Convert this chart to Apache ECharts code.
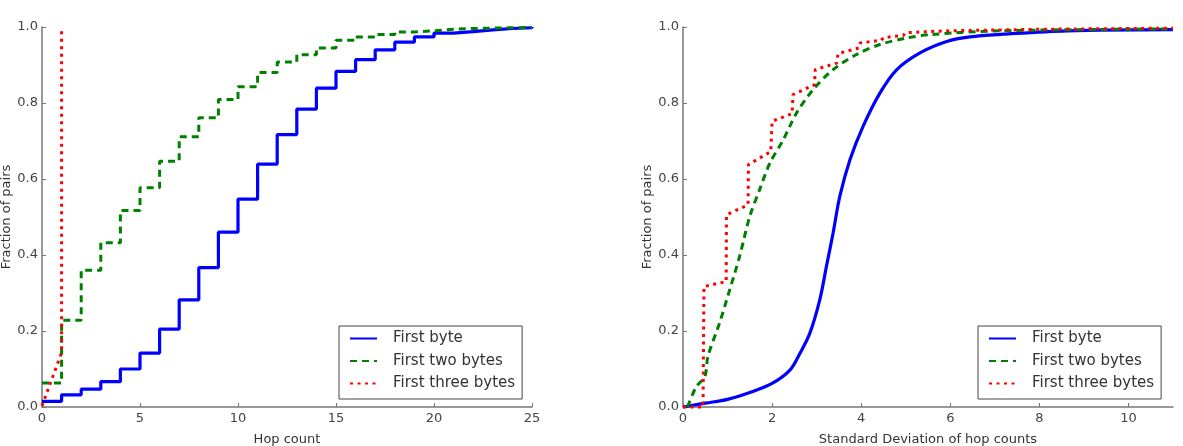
<!DOCTYPE html>
<html>
<head>
<meta charset="utf-8">
<script src="https://cdn.jsdelivr.net/npm/echarts@6/dist/echarts.min.js"></script>
<style>
html,body{margin:0;padding:0;background:#fff;}
#chart{width:1183px;height:446px;}
</style>
</head>
<body>
<div id="chart"></div>
<script>
// ---- Data ----
const seriesNames = ['First byte', 'First two bytes', 'First three bytes'];

// Left panel: CDF over hop count (step functions, value held on [x, x+1))
const hopX = [0,1,2,3,4,5,6,7,8,9,10,11,12,13,14,15,16,17,18,19,20,21,22,23,24,25];
const hopFirstByte = [0.015,0.032,0.047,0.067,0.100,0.142,0.205,0.282,0.367,0.460,0.547,0.639,0.717,0.784,0.839,0.883,0.914,0.940,0.960,0.974,0.984,0.988,0.9925,0.996,0.998,1.0];
const hopFirstTwo = [0.063,0.228,0.360,0.432,0.517,0.577,0.647,0.711,0.761,0.809,0.843,0.880,0.908,0.927,0.945,0.965,0.974,0.980,0.987,0.990,0.994,0.996,0.997,0.998,0.999,1.0];
const hopThreeX = [0, 1, 1];
const hopFirstThree = [0.003, 0.143, 0.99];

// Right panel: CDF over standard deviation of hop counts
const sdByteX = [0,0.5,1.0,1.5,2.0,2.4,2.62,2.85,3.07,3.22,3.37,3.52,3.75,4.04,4.42,4.8,5.32,5.92,6.44,7.19,8.62,11];
const sdByteY = [0,0.010,0.020,0.038,0.062,0.097,0.14,0.195,0.282,0.370,0.458,0.554,0.651,0.738,0.826,0.888,0.932,0.962,0.974,0.981,0.990,0.993];
const sdTwoX = [0.1,0.3,0.49,0.56,0.82,1.05,1.27,1.5,1.72,1.95,2.25,2.55,2.92,3.37,3.9,4.42,5.02,5.54,7.1,11];
const sdTwoY = [0,0.054,0.08,0.133,0.221,0.309,0.396,0.502,0.572,0.642,0.703,0.774,0.835,0.888,0.928,0.954,0.971,0.98,0.99,0.995];
const sdThreeX = [0,0.45,0.47,0.97,0.975,1.46,1.47,1.97,2.0,2.45,2.47,2.95,2.97,3.45,3.48,3.95,3.97,4.45,4.5,4.95,5.0,5.5,6,7,8,9,10,11];
const sdThreeY = [0,0,0.317,0.33,0.506,0.532,0.638,0.672,0.752,0.772,0.822,0.848,0.888,0.905,0.93,0.945,0.958,0.965,0.972,0.978,0.985,0.988,0.99,0.992,0.994,0.995,0.996,0.997];

const yTicks = [0, 0.2, 0.4, 0.6, 0.8, 1.0];
const hopTicks = [0, 5, 10, 15, 20, 25];
const sdTicks = [0, 2, 4, 6, 8, 10];

// ---- Helpers ----
const zip = (xs, ys) => xs.map((x, i) => [x, ys[i]]);
const FONT = 'DejaVu Sans';
const colors = ['#0000ff', '#008000', '#ff0000'];
const lineStyles = [
  {color: colors[0], width: 3.2, type: 'solid'},
  {color: colors[1], width: 3, type: [7, 5], cap: 'butt'},
  {color: colors[2], width: 3, type: [3, 4.5], cap: 'butt'}
];

function xAxis(gridIndex, max, interval, ticks, name) {
  return {
    type: 'value', gridIndex, min: 0, max, interval,
    name, nameLocation: 'middle', nameGap: 26,
    nameTextStyle: {fontFamily: FONT, fontSize: 13, color: '#333'},
    axisLine: {show: true, onZero: false, lineStyle: {color: '#777', width: 1.5}},
    axisTick: {show: true, inside: true, length: 4, customValues: ticks, lineStyle: {color: '#777'}},
    axisLabel: {show: true, margin: 5, customValues: ticks, fontFamily: FONT, fontSize: 13, color: '#444'},
    splitLine: {show: false}
  };
}
function yAxis(gridIndex) {
  return {
    type: 'value', gridIndex, min: 0, max: 1, interval: 0.2,
    name: 'Fraction of pairs', nameLocation: 'middle', nameGap: 29, nameRotate: 90,
    nameTextStyle: {fontFamily: FONT, fontSize: 13, color: '#333'},
    axisLine: {show: true, onZero: false, lineStyle: {color: '#777', width: 1.5}},
    axisTick: {show: true, inside: true, length: 4, customValues: yTicks, lineStyle: {color: '#777'}},
    axisLabel: {show: true, margin: 4, customValues: yTicks, fontFamily: FONT, fontSize: 13, color: '#444',
      formatter: v => v.toFixed(1)},
    splitLine: {show: false}
  };
}
function legend(left) {
  return {
    data: seriesNames, orient: 'vertical', left, top: 326,
    padding: [5, 7, 8, 10], itemGap: 7.5, itemWidth: 27, itemHeight: 16,
    backgroundColor: '#fff', borderColor: '#444', borderWidth: 1, borderRadius: 0,
    selectedMode: false,
    itemStyle: {color: 'rgba(0,0,0,0)', borderColor: 'rgba(0,0,0,0)', borderWidth: 0, opacity: 0},
    textStyle: {fontFamily: FONT, fontSize: 15, color: '#333', padding: [0, 0, 0, 11]}
  };
}
function line(name, idx, data, axisIdx, step, smooth) {
  return {
    name, type: 'line', xAxisIndex: axisIdx, yAxisIndex: axisIdx,
    data, step: step || false, symbol: 'none', smooth: smooth || false,
    lineStyle: lineStyles[idx], itemStyle: {color: colors[idx]},
    clip: false, silent: true, z: 2 + idx
  };
}

const chart = echarts.init(document.getElementById('chart'), null, {renderer: 'canvas'});
chart.setOption({
  animation: false,
  backgroundColor: '#fff',
  grid: [
    {left: 42, top: 27, width: 490, height: 380, show: false, containLabel: false, outerBoundsMode: 'none'},
    {left: 683, top: 27, width: 490, height: 380, show: false, containLabel: false, outerBoundsMode: 'none'}
  ],
  xAxis: [xAxis(0, 25, 5, hopTicks, 'Hop count'), xAxis(1, 11, 2, sdTicks, 'Standard Deviation of hop counts')],
  yAxis: [yAxis(0), yAxis(1)],
  legend: [legend(339), legend(978)],
  series: [
    line(seriesNames[0], 0, zip(hopX, hopFirstByte), 0, 'end'),
    line(seriesNames[1], 1, zip(hopX, hopFirstTwo), 0, 'end'),
    line(seriesNames[2], 2, zip(hopThreeX, hopFirstThree), 0),
    line(seriesNames[0], 0, zip(sdByteX, sdByteY), 1, false, 0.35),
    line(seriesNames[1], 1, zip(sdTwoX, sdTwoY), 1, false, 0.3),
    line(seriesNames[2], 2, zip(sdThreeX, sdThreeY), 1)
  ]
});
</script>
</body>
</html>
